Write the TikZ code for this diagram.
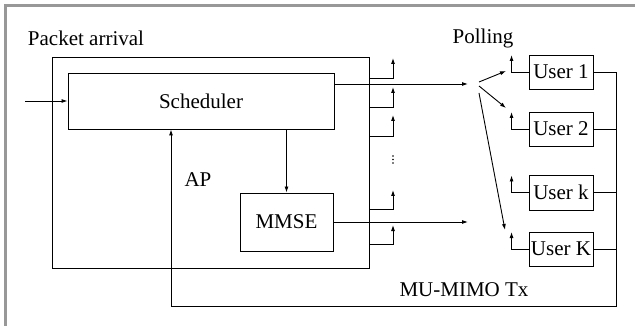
\documentclass[tikz,border=0pt]{standalone}
\usepackage{fontspec}
\setmainfont{Liberation Serif}
\usetikzlibrary{arrows.meta}
\definecolor{frameGray}{RGB}{152,152,152}
\tikzset{
  blk/.style={draw, inner sep=0pt},
  lbl/.style={inner sep=0pt},
}

\begin{document}
\begin{tikzpicture}[x=1pt, y=-1pt, line width=0.9pt, >={Latex[length=6pt,width=4pt]},
  font=\fontsize{21}{24}\selectfont]
\useasboundingbox (0,0) rectangle (635,326);
\draw[frameGray, line width=3pt] (5.5,326) -- (5.5,5.5) -- (635,5.5);

\node (pkt) at (86,38) [lbl] {Packet arrival};
\node (ap) at (210.5,162.5) [blk, minimum width=317pt, minimum height=211pt] {};
\node (apl) at (198,180) [lbl] {AP};
\node (sched) at (201,101) [blk, minimum width=266pt, minimum height=56pt] {Scheduler};
\node (mmse) at (286.5,222) [blk, minimum width=93pt, minimum height=58pt] {MMSE};

\node (poll) at (483,38) [lbl] {Polling};
\node (u1) at (561,72) [blk, minimum width=64pt, minimum height=34pt] {User 1};
\node (u2) at (561,129) [blk, minimum width=64pt, minimum height=34pt] {User 2};
\node (uk) at (561,192.5) [blk, minimum width=64pt, minimum height=35pt] {User k};
\node (uK) at (561,249) [blk, minimum width=64pt, minimum height=34pt] {User K};
\node (tx) at (464,290) [lbl] {MU-MIMO Tx};

\coordinate (in) at (25,101);
\coordinate (fanA) at (468,84);
\coordinate (fanB) at (468,222);
\coordinate (fbR) at (616,306);
\coordinate (fbL) at (171,306);

\draw[->] (in) -- (sched.west);
\draw[->] (sched.south -| mmse.north) -- (mmse.north);
\draw[->] (sched.east |- fanA) -- (fanA);
\draw[->] (mmse.east) -- (fanB);

% beam outputs of the AP
\foreach \y/\t in {78/58, 107/87, 136/115, 209/190, 244/225}
  \draw[->] (ap.east |- 0,\y) -| (393,\t);
\foreach \d in {156,159.5,163}
  \fill (393,\d) circle (0.9pt);

% polling
\draw[->] (479,82) -- (506,71);
\draw[->] (479,86) -- (506,108);
\draw[->] (479,93) -- (505,230);
\foreach \u in {u1,u2,uk,uK}
  \draw[->] (\u.west) -| ([xshift=-17pt,yshift=17pt]\u.west);

% feedback to the scheduler
\draw[->] (u1.east) -| (fbR) -- (fbL) -- (fbL |- sched.south);
\foreach \u in {u2,uk,uK}
  \draw (\u.east) -- (fbR |- \u.east);

\end{tikzpicture}
\end{document}
